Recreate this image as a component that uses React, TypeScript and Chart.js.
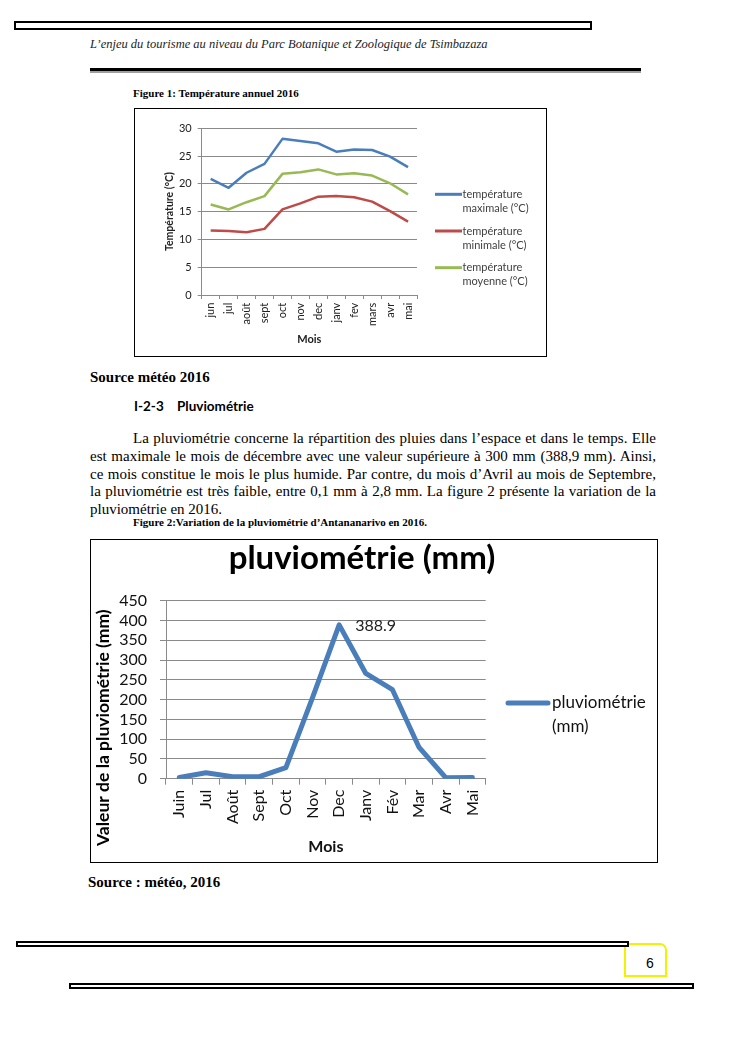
import React, { useEffect, useRef } from 'react';
import { Chart, registerables } from 'chart.js';

Chart.register(...registerables);

// ---------- Data ----------
const tempMonths = ['jun', 'jul', 'août', 'sept', 'oct', 'nov', 'dec', 'janv', 'fev', 'mars', 'avr', 'mai'];
const tempMax = [20.9, 19.3, 22.0, 23.6, 28.1, 27.7, 27.3, 25.8, 26.2, 26.1, 24.9, 23.0];
const tempMin = [11.6, 11.5, 11.3, 11.9, 15.4, 16.5, 17.7, 17.8, 17.6, 16.8, 15.1, 13.2];
const tempMoy = [16.3, 15.4, 16.7, 17.8, 21.8, 22.1, 22.6, 21.7, 21.9, 21.5, 20.1, 18.1];
const tempLegend = [
  ['température', 'maximale (°C)'],
  ['température', 'minimale (°C)'],
  ['température', 'moyenne (°C)'],
];

const rainMonths = ['Juin', 'Jul', 'Août', 'Sept', 'Oct', 'Nov', 'Dec', 'Janv', 'Fév', 'Mar', 'Avr', 'Mai'];
const rainValues = [3, 15, 5, 5, 28, 205, 388.9, 266, 225, 79, 2.5, 3];
const rainLegend = [['pluviométrie', '(mm)']];
const rainTitle = 'pluviométrie (mm)';
const rainYTitle = 'Valeur de la pluviométrie (mm)';

const paragraphLines = [
  'La pluviométrie concerne la répartition des pluies dans l’espace et dans le temps. Elle',
  'est maximale le mois de décembre avec une valeur supérieure à 300 mm (388,9 mm). Ainsi,',
  'ce mois constitue le mois le plus humide. Par contre, du mois d’Avril au mois de Septembre,',
  'la pluviométrie est très faible, entre 0,1 mm à 2,8 mm. La figure 2 présente la variation de la',
  'pluviométrie en 2016.',
];

// ---------- Styles ----------
const SERIF = '"Liberation Serif", "Times New Roman", serif';
const SANS = 'Lato, "Open Sans", sans-serif';
const GRID = '#8a8a8a';

Chart.defaults.font.family = SANS;

function legendPlugin(o: any) {
  return {
    id: 'customLegend',
    afterDraw(chart: any) {
      const ctx = chart.ctx;
      ctx.save();
      chart.data.datasets.forEach((ds: any, i: number) => {
        const y = o.y + i * o.entryH;
        ctx.strokeStyle = ds.borderColor;
        ctx.lineWidth = o.lineWidth;
        ctx.lineCap = o.cap || 'butt';
        ctx.beginPath();
        ctx.moveTo(o.x, y);
        ctx.lineTo(o.x + o.lineLen, y);
        ctx.stroke();
        ctx.fillStyle = o.color;
        ctx.font = o.font;
        ctx.textAlign = 'left';
        ctx.textBaseline = 'middle';
        o.labels[i].forEach((t: string, j: number) => {
          ctx.fillText(t, o.x + o.lineLen + o.gap, y + j * o.lineH);
        });
      });
      ctx.restore();
    },
  };
}

const rainYTitlePlugin = {
  id: 'rainYTitle',
  afterDraw(chart: any) {
    const { ctx, chartArea } = chart;
    ctx.save();
    ctx.translate(12, (chartArea.top + chartArea.bottom) / 2 + 38);
    ctx.rotate(-Math.PI / 2);
    ctx.font = `bold 17.5px ${SANS}`;
    ctx.fillStyle = '#000';
    ctx.textAlign = 'center';
    ctx.textBaseline = 'middle';
    ctx.fillText(rainYTitle, 0, 0);
    ctx.restore();
  },
};

const rainLabelPlugin = {
  id: 'rainPeakLabel',
  afterDatasetsDraw(chart: any) {
    const vals = chart.data.datasets[0].data as number[];
    const idx = vals.indexOf(Math.max(...vals));
    const pt = chart.getDatasetMeta(0).data[idx];
    const ctx = chart.ctx;
    ctx.save();
    ctx.font = `16px ${SANS}`;
    ctx.fillStyle = '#222';
    ctx.textAlign = 'left';
    ctx.textBaseline = 'middle';
    ctx.fillText(String(vals[idx]), pt.x + 16, pt.y + 1);
    ctx.restore();
  },
};

function TempChart() {
  const ref = useRef<HTMLCanvasElement>(null);
  useEffect(() => {
    const chart = new Chart(ref.current as HTMLCanvasElement, {
      type: 'line',
      data: {
        labels: tempMonths,
        datasets: [
          { label: 'température maximale (°C)', data: tempMax, borderColor: '#4A7EBB', borderWidth: 2.5 },
          { label: 'température minimale (°C)', data: tempMin, borderColor: '#BE4B48', borderWidth: 2.5 },
          { label: 'température moyenne (°C)', data: tempMoy, borderColor: '#98B954', borderWidth: 2.5 },
        ],
      },
      options: {
        responsive: false,
        animation: false,
        layout: { padding: { left: 22, right: 129, top: 19.3, bottom: 0 } },
        elements: { point: { radius: 0 }, line: { tension: 0, borderJoinStyle: 'round' } },
        plugins: { legend: { display: false }, tooltip: { enabled: false }, title: { display: false } },
        scales: {
          x: {
            type: 'category',
            offset: true,
            grid: { display: true, drawOnChartArea: false, drawTicks: true, tickLength: 4, offset: true, color: GRID },
            border: { display: true, color: GRID, width: 1 },
            ticks: { autoSkip: false, maxRotation: 90, minRotation: 90, padding: 3.7, font: { size: 11 }, color: '#222' },
            title: { display: true, text: 'Mois', font: { size: 11, weight: 'bold' }, color: '#222', padding: { top: 0, bottom: 10.4 } },
            afterFit: (s: any) => { s.height = 61; },
          },
          y: {
            min: 0,
            max: 30,
            ticks: { stepSize: 5, autoSkip: false, padding: 6, font: { size: 11 }, color: '#222' },
            grid: { color: GRID, tickLength: 4 },
            border: { display: true, color: GRID },
            title: { display: true, text: 'Température (°C)', font: { size: 10.5, weight: 'bold' }, color: '#222', padding: { top: 6, bottom: 0 } },
            afterFit: (s: any) => { s.width = 44.7; },
          },
        },
      } as any,
      plugins: [
        legendPlugin({ x: 300, y: 85.3, lineLen: 27, gap: 0.5, lineH: 14, entryH: 36.7, font: `11px ${SANS}`, color: '#404040', lineWidth: 3, labels: tempLegend }),
      ],
    });
    return () => chart.destroy();
  }, []);
  return <canvas ref={ref} width={411} height={247} style={{ display: 'block' }} />;
}

function RainChart() {
  const ref = useRef<HTMLCanvasElement>(null);
  useEffect(() => {
    const chart = new Chart(ref.current as HTMLCanvasElement, {
      type: 'line',
      data: {
        labels: rainMonths,
        datasets: [
          { label: 'pluviométrie (mm)', data: rainValues, borderColor: '#4A7EBB', borderWidth: 5, borderCapStyle: 'round', borderJoinStyle: 'round' },
        ],
      },
      options: {
        responsive: false,
        animation: false,
        layout: { padding: { left: 0, right: 24, top: 0, bottom: 0 } },
        elements: { point: { radius: 0 }, line: { tension: 0 } },
        plugins: {
          legend: { display: false },
          tooltip: { enabled: false },
          title: { display: true, text: rainTitle, color: '#000', font: { size: 33, weight: 'bold', lineHeight: 1 }, padding: { top: 1.5, bottom: 26.2 } },
        },
        scales: {
          x: {
            type: 'category',
            offset: true,
            grid: { display: true, drawOnChartArea: false, drawTicks: true, tickLength: 6, offset: true, color: GRID },
            border: { display: true, color: GRID, width: 1 },
            ticks: { autoSkip: false, maxRotation: 90, minRotation: 90, padding: 5, font: { size: 16 }, color: '#111' },
            title: { display: true, text: 'Mois', font: { size: 16, weight: 'bold' }, color: '#111', padding: { top: 0, bottom: 5.7 } },
            afterFit: (s: any) => { s.height = 83.3; },
          },
          y: {
            min: 0,
            max: 450,
            ticks: { stepSize: 50, autoSkip: false, maxTicksLimit: 20, padding: 13, font: { size: 16, lineHeight: 1 }, color: '#111' },
            grid: { color: GRID, tickLength: 6 },
            border: { display: true, color: GRID },
            afterFit: (s: any) => { s.width = 75; },
          },
          r: {
            type: 'linear',
            position: 'right',
            display: true,
            grid: { display: false, drawTicks: false },
            border: { display: false },
            ticks: { display: false },
            afterFit: (s: any) => { s.width = 147.3; },
          },
        },
      } as any,
      plugins: [
        legendPlugin({ x: 417, y: 163, lineLen: 40, gap: 4, lineH: 24, entryH: 30, font: `17px ${SANS}`, color: '#111', lineWidth: 5, cap: 'round', labels: rainLegend }),
        rainYTitlePlugin,
        rainLabelPlugin,
      ],
    });
    return () => chart.destroy();
  }, []);
  return <canvas ref={ref} width={566} height={322} style={{ display: 'block' }} />;
}

function Txt(props: { left: number; cy: number; size: number; lh?: number; style?: React.CSSProperties; children: React.ReactNode; width?: number }) {
  const lh = props.lh || Math.round(props.size * 1.3);
  return (
    <div
      style={{
        position: 'absolute',
        left: props.left,
        top: props.cy - lh / 2,
        lineHeight: lh + 'px',
        fontSize: props.size,
        whiteSpace: 'nowrap',
        width: props.width,
        ...props.style,
      }}
    >
      {props.children}
    </div>
  );
}

export default function App() {
  const paraY = [438, 456, 473.5, 491, 508.5];
  return (
    <div style={{ position: 'absolute', left: 0, top: 0, width: 745, height: 1053, background: '#fff', overflow: 'hidden', fontFamily: SERIF, color: '#000' }}>
      {/* header */}
      <div style={{ position: 'absolute', left: 14, top: 21, width: 578, height: 9, border: '2.5px solid #000', boxSizing: 'border-box' }} />
      <Txt left={90} cy={44} size={12.5} style={{ fontStyle: 'italic', color: '#222' }}>
        L’enjeu du tourisme au niveau du Parc Botanique et Zoologique de Tsimbazaza
      </Txt>
      <div style={{ position: 'absolute', left: 90, top: 68, width: 551, height: 3, background: '#000', borderBottom: '2px solid #a0a0a0' }} />

      {/* figure 1 */}
      <Txt left={133} cy={93} size={11} style={{ fontWeight: 'bold' }}>Figure 1: Température annuel 2016</Txt>
      <div style={{ position: 'absolute', left: 134, top: 108, width: 413, height: 249, border: '1px solid #000', boxSizing: 'border-box', background: '#fff' }}>
        <TempChart />
      </div>

      <Txt left={90} cy={377} size={15} style={{ fontWeight: 'bold' }}>Source météo 2016</Txt>
      <Txt left={134} cy={406} size={13.5} style={{ fontWeight: 'bold', fontFamily: SANS }}>I-2-3</Txt>
      <Txt left={177} cy={406} size={13.5} style={{ fontWeight: 'bold', fontFamily: SANS }}>Pluviométrie</Txt>

      {paragraphLines.map((line, i) => {
        const last = i === paragraphLines.length - 1;
        const left = i === 0 ? 133 : 90;
        return (
          <Txt
            key={i}
            left={left}
            cy={paraY[i]}
            size={15}
            lh={18}
            width={last ? undefined : 656 - left}
            style={{ textAlign: 'justify', textAlignLast: last ? 'left' : 'justify', whiteSpace: 'normal' } as any}
          >
            {line}
          </Txt>
        );
      })}

      <Txt left={133} cy={522} size={11} style={{ fontWeight: 'bold' }}>Figure 2:Variation de la pluviométrie d’Antananarivo en 2016.</Txt>
      <div style={{ position: 'absolute', left: 90, top: 539, width: 568, height: 324, border: '1px solid #000', boxSizing: 'border-box', background: '#fff' }}>
        <RainChart />
      </div>
      <Txt left={88} cy={882} size={15} style={{ fontWeight: 'bold' }}>Source : météo, 2016</Txt>

      {/* footer */}
      <div style={{ position: 'absolute', left: 624, top: 943, width: 43, height: 34, border: '2px solid #f2f200', borderTopRightRadius: 7, boxSizing: 'border-box' }} />
      <Txt left={646} cy={963} size={14} style={{ fontFamily: '"Liberation Sans", Arial, sans-serif' }}>6</Txt>
      <div style={{ position: 'absolute', left: 16, top: 941, width: 613, height: 6, border: '2px solid #000', boxSizing: 'border-box', background: '#fff' }} />
      <div style={{ position: 'absolute', left: 69, top: 983, width: 625, height: 6, border: '2px solid #000', boxSizing: 'border-box', background: '#fff' }} />
    </div>
  );
}
